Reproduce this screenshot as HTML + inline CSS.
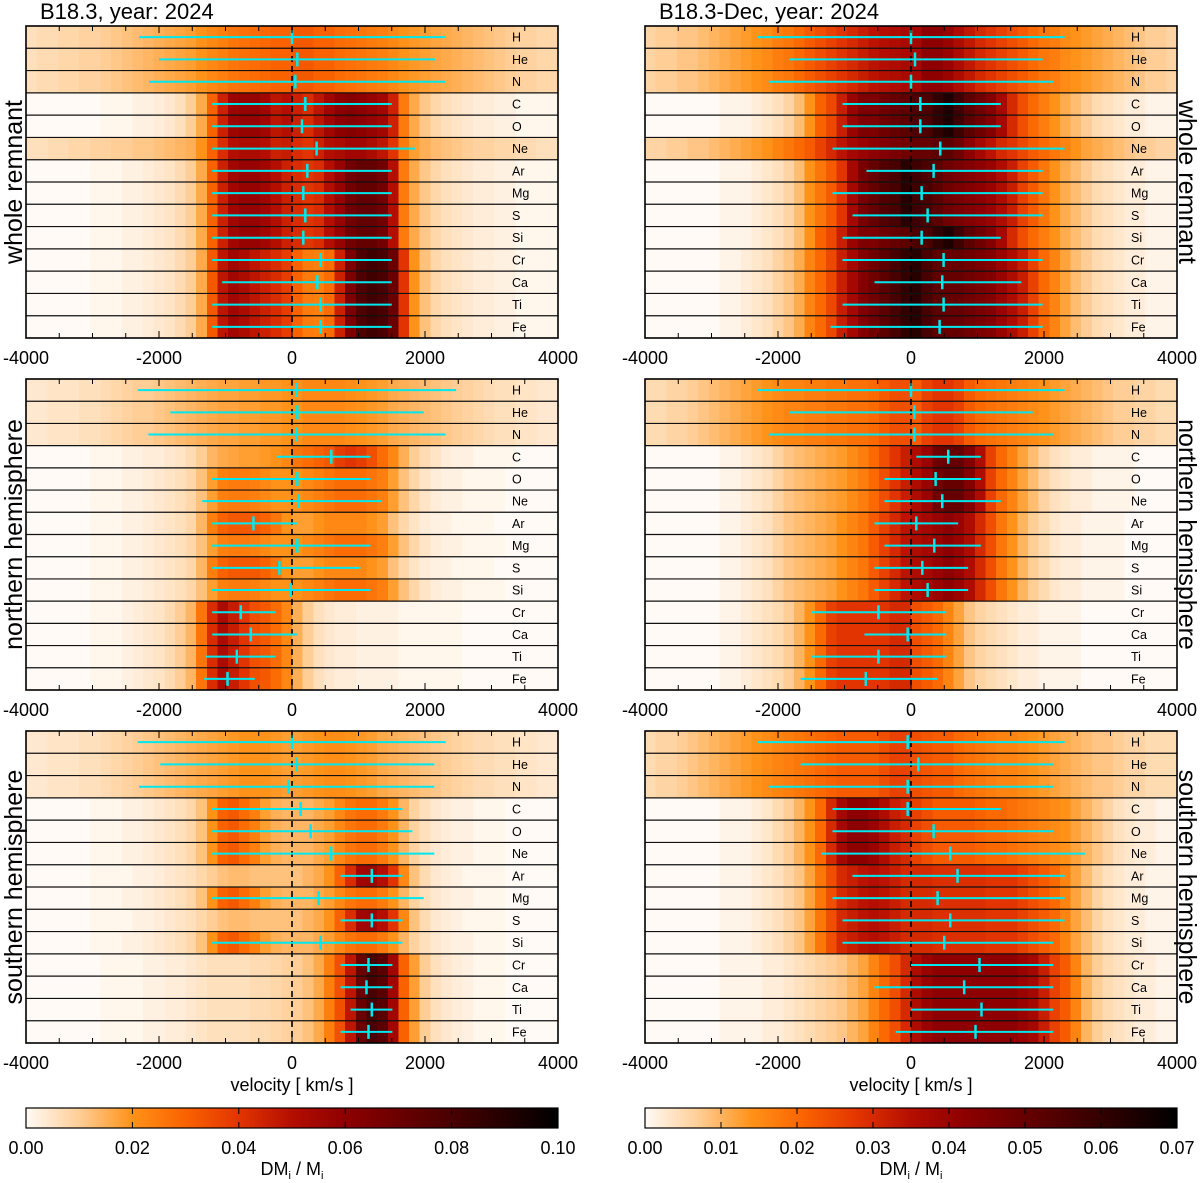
<!DOCTYPE html>
<html><head><meta charset="utf-8"><style>
html,body{margin:0;padding:0;background:#fff;}
svg{display:block;font-family:"Liberation Sans",sans-serif;}
</style></head><body>
<svg id="fig" width="1200" height="1183" viewBox="0 0 1200 1183" xmlns="http://www.w3.org/2000/svg"></svg>
<script>
const elements=["H","He","N","C","O","Ne","Ar","Mg","S","Si","Cr","Ca","Ti","Fe"];
const velTicks=[-4000,-2000,0,2000,4000];
const binStart=-4000, binWidth=160;
const cbTicksLeft=["0.00","0.02","0.04","0.06","0.08","0.10"];
const cbTicksRight=["0.00","0.01","0.02","0.03","0.04","0.05","0.06","0.07"];
const vmaxLeft=0.1, vmaxRight=0.07;

// Panel A: B18.3 whole remnant (values in 1e-3)
const profA_light=[6,7,7,8,8,9,9,10,11,12,13,14,15,16,17,18,20,22,24,26,27,28,29,30,30,32,32,30,30,28,27,26,25,24,22,20,19,18,17,16,15,14,13,12,11,10,9,9,8,8];
const profA_co=[0,0,0,0,0,0,0,1,1,1,2,2,3,4,6,10,16,30,45,56,58,58,55,48,50,45,42,48,55,60,62,60,58,55,45,25,16,11,8,6,5,4,3,3,2,2,1,1,1,1];
const profA_ne=[6,6,7,7,8,8,9,9,10,10,11,11,12,13,14,15,20,30,42,50,52,52,50,45,46,42,40,45,50,52,55,55,52,48,40,25,18,15,13,12,11,10,9,9,8,8,7,7,6,6];
const profA_ime=[0,0,0,0,0,0,1,1,1,2,2,3,4,5,7,10,16,30,45,55,58,58,55,50,45,42,40,42,50,58,68,72,72,68,50,25,16,11,8,6,5,4,3,3,2,2,1,1,1,1];
const profA_fe=[0,0,0,0,0,0,1,1,1,2,2,3,4,5,7,10,16,32,48,55,52,48,45,42,38,30,25,24,28,45,65,78,82,80,70,40,20,12,8,6,5,4,3,3,2,2,1,1,1,1];
const rowsA=[profA_light,profA_light,profA_light,profA_co,profA_co,profA_ne,profA_ime,profA_ime,profA_ime,profA_ime,profA_fe,profA_fe,profA_fe,profA_fe];
const errA_mid=[0,80,50,200,150,370,230,170,200,170,430,380,430,430];
const errA_lo=[-2300,-2000,-2150,-1200,-1200,-1200,-1200,-1200,-1200,-1200,-1200,-1050,-1200,-1200];
const errA_hi=[2300,2150,2300,1500,1500,1850,1500,1500,1500,1500,1500,1500,1500,1500];

// Panel B: B18.3-Dec whole remnant
const profB_light=[6,7,7,8,8,9,10,11,12,13,14,15,17,18,20,22,24,26,28,30,32,34,35,36,37,38,42,42,40,36,33,30,28,26,24,22,20,18,17,15,14,13,12,11,10,9,8,7,7,6];
const profB_co=[0,0,0,0,0,0,0,1,1,1,2,3,4,6,9,14,21,25,32,40,45,45,48,50,52,55,55,60,64,58,52,48,44,38,30,24,20,17,14,11,9,7,5,4,3,2,2,1,1,1];
const profB_ne=[6,6,7,7,8,8,9,10,11,12,13,14,16,18,20,22,26,30,34,38,40,42,44,46,48,50,50,52,52,48,42,38,34,30,28,25,22,20,18,16,14,12,11,10,9,8,7,7,6,6];
const profB_ime=[0,0,0,0,0,0,0,1,1,1,2,3,4,6,9,14,18,22,28,38,46,50,54,56,62,58,55,52,48,46,44,42,40,36,32,26,22,18,14,11,9,7,5,4,3,2,2,1,1,1];
const profB_fe=[0,0,0,0,0,0,0,1,1,2,3,4,6,8,11,16,20,25,32,38,44,48,52,56,60,62,56,52,50,50,48,46,44,40,36,32,26,20,16,12,9,7,5,4,3,2,2,1,1,1];
const rowsB=[profB_light,profB_light,profB_light,profB_co,profB_co,profB_ne,profB_ime,profB_ime,profB_ime,profB_co,profB_fe,profB_fe,profB_fe,profB_fe];
const errB_mid=[0,60,0,140,140,440,340,160,250,160,490,470,490,430];
const errB_lo=[-2310,-1830,-2140,-1030,-1030,-1180,-670,-1180,-880,-1030,-1030,-550,-1030,-1210];
const errB_hi=[2310,1980,2140,1350,1350,2310,1980,1980,1980,1350,1980,1660,1980,1980];

// Panel C: B18.3 northern hemisphere
const profC_light=[4,4,5,5,5,6,6,7,8,9,10,10,11,12,13,14,15,16,17,17,18,18,19,19,20,20,22,22,22,22,21,20,19,18,16,15,14,13,12,11,10,9,8,7,6,6,5,5,4,4];
const profC_c=[0,0,0,0,0,0,1,1,1,2,2,3,3,4,5,7,10,14,16,17,18,18,19,20,22,26,28,30,32,38,40,38,34,28,22,15,10,7,5,3,2,2,1,1,1,1,0,0,0,0];
const profC_o=[0,0,0,0,0,0,1,1,1,2,2,3,4,5,6,8,12,18,24,25,25,24,22,20,20,20,22,24,26,28,28,28,26,24,18,12,8,5,3,2,2,1,1,1,1,0,0,0,0,0];
const profC_ar=[0,0,0,0,0,0,1,1,1,2,2,3,4,5,6,8,14,24,30,32,32,32,30,26,20,18,18,20,22,22,22,22,20,18,12,8,5,3,2,2,1,1,1,1,0,0,0,0,0,0];
const profC_fe=[0,0,0,0,0,0,1,1,1,2,3,4,5,7,10,14,26,42,52,46,40,34,32,28,22,15,10,6,4,3,3,2,2,2,2,1,1,1,1,1,1,0,0,0,0,0,0,0,0,0];
const rowsC=[profC_light,profC_light,profC_light,profC_c,profC_o,profC_o,profC_ar,profC_o,profC_ar,profC_o,profC_fe,profC_fe,profC_fe,profC_fe];
const errC_mid=[70,80,70,590,80,100,-580,80,-190,-20,-770,-620,-830,-970];
const errC_lo=[-2320,-1830,-2160,-230,-1200,-1350,-1200,-1200,-1200,-1200,-1200,-1200,-1300,-1320];
const errC_hi=[2470,1980,2310,1180,1180,1350,80,1180,1030,1180,-250,80,-250,-560];

// Panel D: B18.3-Dec northern hemisphere
const profD_light=[5,5,6,6,7,8,9,10,11,12,13,14,15,16,16,17,17,18,18,19,19,20,22,24,24,22,26,28,28,26,22,20,19,18,17,16,15,14,13,12,11,10,9,8,7,7,6,6,5,5];
const profD_c=[0,0,0,0,0,0,0,1,1,2,3,4,6,8,9,10,11,12,13,15,17,20,24,28,32,36,40,48,50,50,44,36,26,20,16,12,9,6,4,3,2,2,1,1,1,1,0,0,0,0];
const profD_ime=[0,0,0,0,0,0,0,1,1,2,3,4,6,8,9,10,11,12,14,16,18,22,26,30,34,36,38,40,42,40,36,30,24,18,14,10,7,5,3,2,2,1,1,1,1,0,0,0,0,0];
const profD_fe=[0,0,0,0,0,0,0,1,1,2,3,4,5,7,10,14,20,26,28,28,28,28,28,30,30,24,22,20,16,12,8,6,5,4,3,2,2,1,1,1,1,0,0,0,0,0,0,0,0,0];
const rowsD=[profD_light,profD_light,profD_light,profD_c,profD_c,profD_c,profD_ime,profD_ime,profD_ime,profD_ime,profD_fe,profD_fe,profD_fe,profD_fe];
const errD_mid=[0,50,50,560,370,470,80,350,170,250,-490,-50,-490,-680];
const errD_lo=[-2310,-1830,-2140,80,-400,-400,-550,-400,-550,-550,-1500,-700,-1500,-1660];
const errD_hi=[2310,1830,2140,1050,1050,1350,710,1050,860,860,530,530,530,400];

// Panel E: B18.3 southern hemisphere
const profE_light=[4,4,5,5,5,6,6,7,8,9,10,11,12,13,14,15,16,17,18,19,20,20,20,19,18,18,19,20,21,21,20,19,18,16,15,14,13,12,11,10,9,8,7,7,6,6,5,5,4,4];
const profE_c=[0,0,0,0,0,0,1,1,1,2,2,3,4,5,6,8,12,20,30,32,28,24,18,15,14,14,14,16,18,22,26,28,28,25,20,14,9,6,4,3,2,2,1,1,1,0,0,0,0,0];
const profE_ar=[0,0,0,0,0,0,1,1,1,1,2,2,3,4,5,6,8,10,12,13,13,12,12,12,12,12,14,16,20,30,42,55,56,50,40,22,12,7,4,3,2,1,1,1,1,0,0,0,0,0];
const profE_fe=[0,0,0,0,0,0,0,1,1,1,1,2,2,3,3,4,5,6,6,6,6,7,7,8,9,10,12,16,24,34,48,70,80,75,55,30,18,10,6,4,3,2,1,1,1,0,0,0,0,0];
const rowsE=[profE_light,profE_light,profE_light,profE_c,profE_c,profE_c,profE_ar,profE_c,profE_ar,profE_c,profE_fe,profE_fe,profE_fe,profE_fe];
const errE_mid=[0,70,-50,130,280,590,1200,400,1200,430,1150,1120,1200,1150];
const errE_lo=[-2320,-1980,-2300,-1200,-1200,-1200,730,-1200,730,-1200,730,730,880,730];
const errE_hi=[2310,2140,2140,1660,1810,2140,1660,1980,1660,1660,1510,1510,1510,1510];

// Panel F: B18.3-Dec southern hemisphere
const profF_light=[5,6,6,7,8,9,10,11,12,13,14,15,16,17,18,19,20,21,22,22,22,22,24,26,26,24,23,22,22,20,19,18,17,16,16,15,14,13,12,11,10,9,8,8,7,6,6,5,5,5];
const profF_c=[0,0,0,0,0,0,0,1,1,1,2,3,5,7,10,14,20,30,38,42,42,40,36,32,30,26,24,22,22,22,22,21,20,20,19,18,17,16,15,14,12,10,8,6,4,3,2,2,1,1];
const profF_ime=[0,0,0,0,0,0,0,1,1,1,2,3,4,6,8,12,18,24,30,32,34,35,34,32,30,30,30,29,29,29,29,29,28,28,28,26,24,22,20,16,12,9,6,4,3,2,2,1,1,1];
const profF_fe=[0,0,0,0,0,0,0,1,1,1,1,2,2,3,4,5,6,7,8,10,12,16,20,24,30,36,40,42,42,42,42,42,42,42,42,40,38,32,26,22,16,10,7,5,4,3,2,2,1,1];
const rowsF=[profF_light,profF_light,profF_light,profF_c,profF_c,profF_c,profF_ime,profF_ime,profF_ime,profF_ime,profF_fe,profF_fe,profF_fe,profF_fe];
const errF_mid=[-50,110,-50,-50,340,590,700,400,590,500,1030,800,1060,970];
const errF_lo=[-2310,-1660,-2140,-1180,-1180,-1350,-880,-1180,-1030,-1030,0,-550,0,-230];
const errF_hi=[2310,2140,2140,1350,2140,2620,2310,2310,2310,2140,2140,2140,2140,2140];

const NS="http://www.w3.org/2000/svg";
const svg=document.getElementById('fig');
function mk(tag,attrs,parent){const e=document.createElementNS(NS,tag);for(const k in attrs)e.setAttribute(k,attrs[k]);(parent||svg).appendChild(e);return e;}

const stops=[[0,[255,250,245]],[0.1,[255,206,150]],[0.2,[255,146,24]],[0.3,[250,98,0]],[0.4,[226,52,0]],[0.5,[180,14,0]],[0.6,[142,0,0]],[0.8,[72,0,0]],[1,[0,0,0]]];
function cmap(f){f=Math.max(0,Math.min(1,f));for(let i=1;i<stops.length;i++){if(f<=stops[i][0]){const a=stops[i-1],b=stops[i];const t=(f-a[0])/(b[0]-a[0]);const c=a[1].map((v,j)=>Math.round(v+(b[1][j]-v)*t));return `rgb(${c[0]},${c[1]},${c[2]})`;}}return 'rgb(0,0,0)';}

const colL=26, colR=645, pw=532;
const panels=[
 {x:colL,y:26,h:312,rows:rowsA,mid:errA_mid,lo:errA_lo,hi:errA_hi,vmax:vmaxLeft,side:"left",label:"whole remnant",name:"b183-whole"},
 {x:colR,y:26,h:312,rows:rowsB,mid:errB_mid,lo:errB_lo,hi:errB_hi,vmax:vmaxRight,side:"right",label:"whole remnant",name:"b183dec-whole"},
 {x:colL,y:379,h:311,rows:rowsC,mid:errC_mid,lo:errC_lo,hi:errC_hi,vmax:vmaxLeft,side:"left",label:"northern hemisphere",name:"b183-north"},
 {x:colR,y:379,h:311,rows:rowsD,mid:errD_mid,lo:errD_lo,hi:errD_hi,vmax:vmaxRight,side:"right",label:"northern hemisphere",name:"b183dec-north"},
 {x:colL,y:731,h:312,rows:rowsE,mid:errE_mid,lo:errE_lo,hi:errE_hi,vmax:vmaxLeft,side:"left",label:"southern hemisphere",name:"b183-south"},
 {x:colR,y:731,h:312,rows:rowsF,mid:errF_mid,lo:errF_lo,hi:errF_hi,vmax:vmaxRight,side:"right",label:"southern hemisphere",name:"b183dec-south"}
];

panels.forEach((p,pi)=>{
  const g=mk('g',{});
  
  
  const xs=v=>p.x+(v+4000)/8000*pw;
  const rh=p.h/elements.length;
  const hm=mk('g',{'shape-rendering':'crispEdges'},g);
  
  
  p.rows.forEach((prof,ri)=>{
    prof.forEach((val,bi)=>{
      const x0=xs(binStart+bi*binWidth), x1=xs(binStart+(bi+1)*binWidth);
      const r=mk('rect',{x:x0,y:p.y+ri*rh,width:x1-x0+0.6,height:rh+0.6,fill:cmap(val/1000/p.vmax)},hm);
      
      
    });
  });
  for(let ri=1;ri<elements.length;ri++){
    const l=mk('line',{x1:p.x,x2:p.x+pw,y1:p.y+ri*rh,y2:p.y+ri*rh,stroke:'#111','stroke-width':1.2},g);
    
    
  }
  const z=mk('line',{x1:xs(0),x2:xs(0),y1:p.y,y2:p.y+p.h,stroke:'#000','stroke-width':1.6,'stroke-dasharray':'6,4'},g);
  
  
  elements.forEach((el,ri)=>{
    const cy=p.y+(ri+0.5)*rh;
    const eg=mk('g',{},g);
    
    
    mk('line',{x1:xs(p.lo[ri]),x2:xs(p.hi[ri]),y1:cy,y2:cy,stroke:'#00e8ee','stroke-width':2},eg);
    mk('line',{x1:xs(p.mid[ri]),x2:xs(p.mid[ri]),y1:cy-7,y2:cy+7,stroke:'#00e8ee','stroke-width':2.5},eg);
    const t=mk('text',{x:p.x+486,y:cy+4.5,'font-size':12.5,fill:'#000'},g);
    t.textContent=el;
    
    
  });
  for(let v=-4000;v<=4000;v+=500){
    const len=(v%2000===0)?7:5;
    mk('line',{x1:xs(v),x2:xs(v),y1:p.y,y2:p.y+len,stroke:'#000','stroke-width':1},g);
    mk('line',{x1:xs(v),x2:xs(v),y1:p.y+p.h,y2:p.y+p.h-len,stroke:'#000','stroke-width':1},g);
  }
  const fr=mk('rect',{x:p.x,y:p.y,width:pw,height:p.h,fill:'none',stroke:'#000','stroke-width':1.6},g);
  
  
  velTicks.forEach(v=>{
    const t=mk('text',{x:xs(v),y:p.y+p.h+26,'font-size':18,'text-anchor':'middle',fill:'#000'},g);
    t.textContent=String(v);
    
    
  });
  const cy=p.y+p.h/2;
  const sx=p.side==='left'?14:1187;
  const st=mk('text',{x:sx,y:cy,'font-size':25,'text-anchor':'middle','dominant-baseline':'central',transform:`rotate(${p.side==='left'?-90:90} ${sx} ${cy})`,fill:'#000'},g);
  st.textContent=p.label;
  
  
  if(pi>=4){
    const vt=mk('text',{x:p.x+pw/2,y:1091,'font-size':18,'text-anchor':'middle',fill:'#000'},g);
    vt.textContent='velocity [ km/s ]';
    
    
  }
});

[[40,"B18.3, year: 2024","left-title"],[659,"B18.3-Dec, year: 2024","right-title"]].forEach(d=>{
  const t=mk('text',{x:d[0],y:19,'font-size':22,fill:'#000'});
  t.textContent=d[1];
  
  
});

const defs=mk('defs',{});
const grad=mk('linearGradient',{id:'cbg',x1:0,x2:1,y1:0,y2:0},defs);
for(let i=0;i<=40;i++){mk('stop',{offset:i/40,'stop-color':cmap(i/40)},grad);}
[[colL,cbTicksLeft,"left-colorbar"],[colR,cbTicksRight,"right-colorbar"]].forEach(c=>{
  const g=mk('g',{});
  
  
  mk('rect',{x:c[0],y:1108,width:pw,height:20,fill:'url(#cbg)',stroke:'#000','stroke-width':1.2},g);
  const n=c[1].length-1;
  c[1].forEach((lab,i)=>{
    const x=c[0]+pw*i/n;
    mk('line',{x1:x,x2:x,y1:1108,y2:1114,stroke:'#000','stroke-width':1},g);
    mk('line',{x1:x,x2:x,y1:1128,y2:1122,stroke:'#000','stroke-width':1},g);
    const t=mk('text',{x:x,y:1154,'font-size':18,'text-anchor':'middle',fill:'#000'},g);
    t.textContent=lab;
    
    
  });
  const t=mk('text',{x:c[0]+pw/2,y:1175,'font-size':18,'text-anchor':'middle',fill:'#000'},g);
  t.innerHTML='DM<tspan font-size="11" dy="4">i</tspan><tspan dy="-4"> / M</tspan><tspan font-size="11" dy="4">i</tspan>';
  
  
});
</script>
</body></html>
